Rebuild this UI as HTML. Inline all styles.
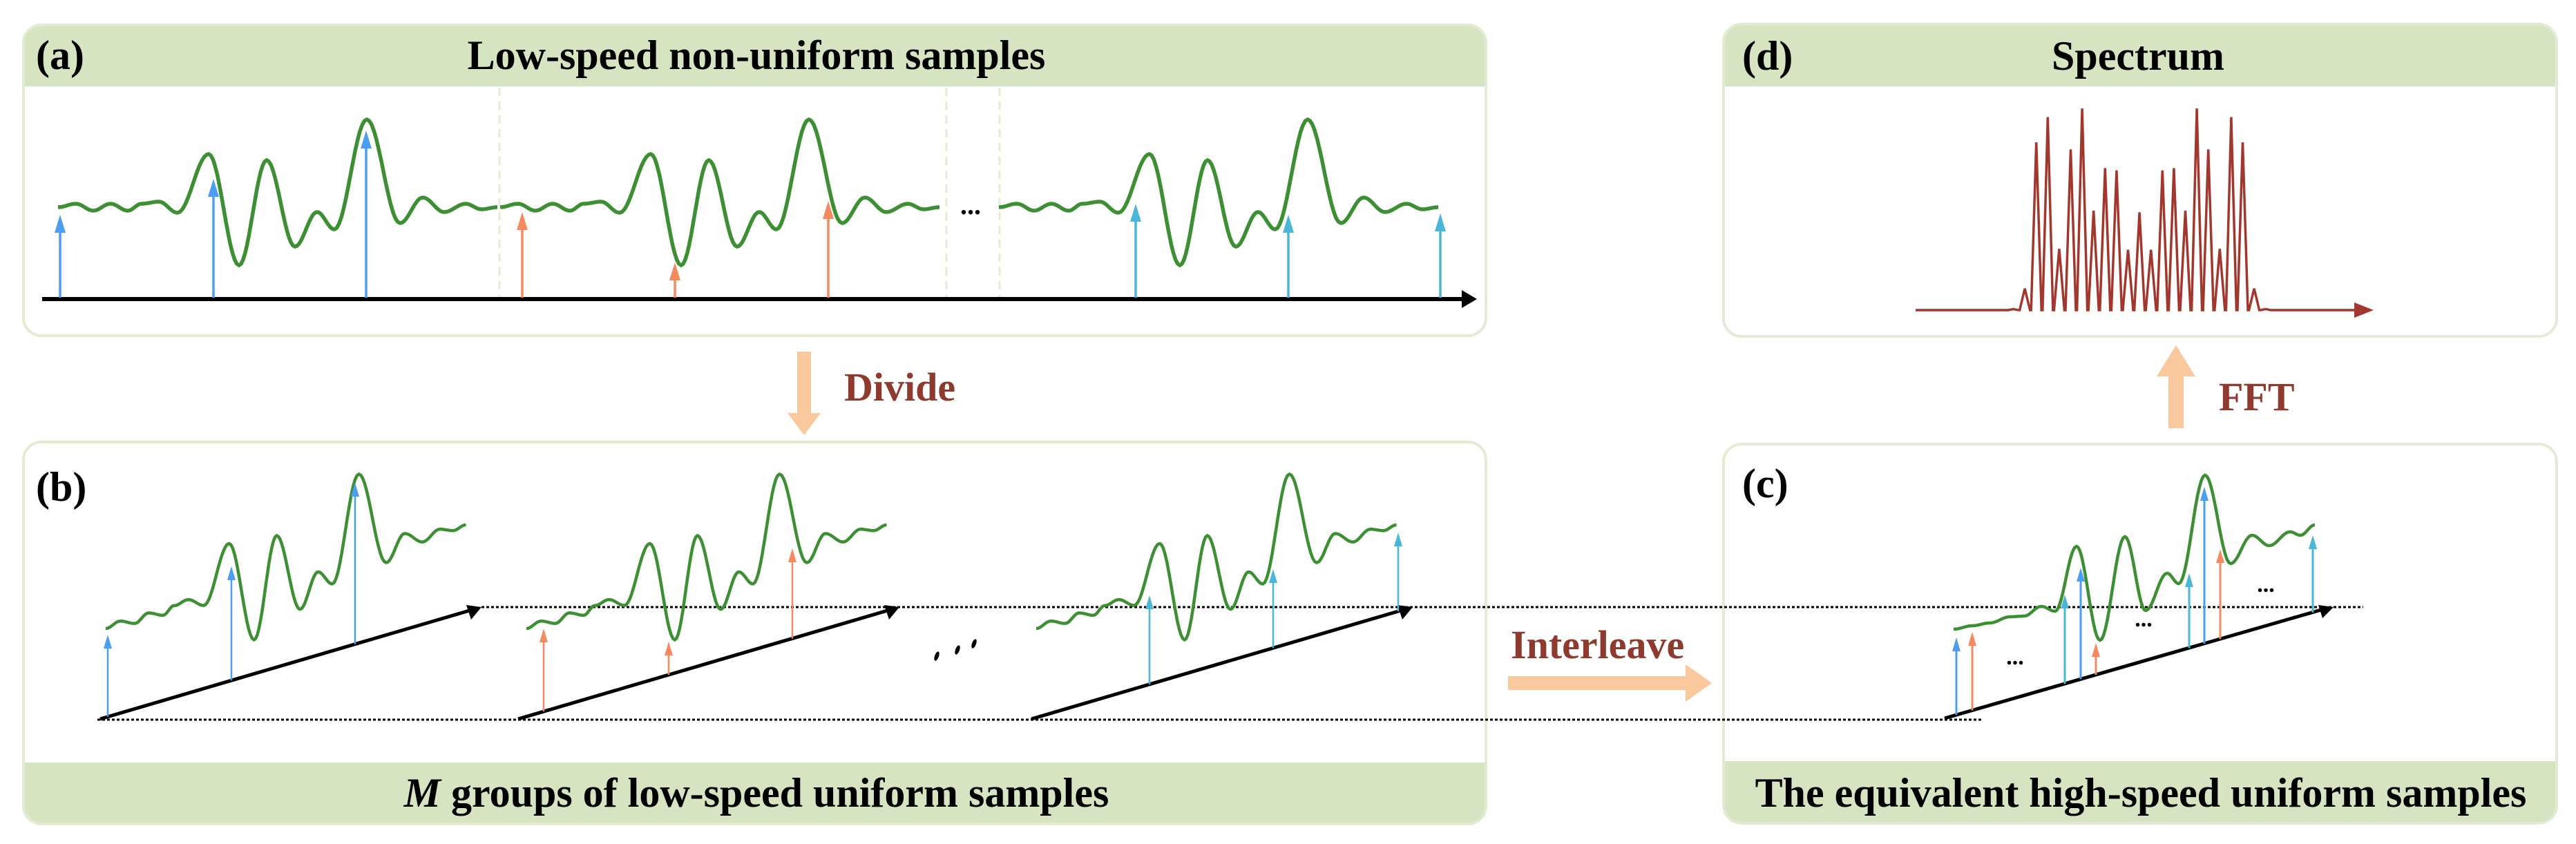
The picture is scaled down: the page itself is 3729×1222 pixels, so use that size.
<!DOCTYPE html>
<html><head><meta charset="utf-8">
<style>
html,body{margin:0;padding:0;background:#fff;}
svg{display:block;}
text{font-family:"Liberation Serif",serif;font-weight:bold;}
</style></head>
<body>
<svg id="fig" width="3729" height="1222" viewBox="0 0 3729 1222" xmlns="http://www.w3.org/2000/svg">
<defs>
<clipPath id="ca"><rect x="34" y="36" width="2117" height="450" rx="26"/></clipPath>
<clipPath id="cb"><rect x="34" y="640" width="2117" height="553" rx="26"/></clipPath>
<clipPath id="cd"><rect x="2495" y="35" width="1206" height="452" rx="26"/></clipPath>
<clipPath id="cc"><rect x="2495" y="643" width="1206" height="549" rx="26"/></clipPath>
</defs>
<g>
<rect x="34" y="36" width="2117" height="450" rx="26" fill="#fff"/>
<rect x="34" y="36" width="2117" height="89" fill="#d7e4c1" clip-path="url(#ca)"/>
<rect x="34" y="36" width="2117" height="450" rx="26" fill="none" stroke="#e2ecd2" stroke-width="4"/>
<text x="52" y="100" font-size="60">(a)</text>
<text x="1095" y="100" font-size="60" text-anchor="middle">Low-speed non-uniform samples</text>
</g>
<g>
<rect x="34" y="640" width="2117" height="553" rx="26" fill="#fff"/>
<rect x="34" y="1104" width="2117" height="89" fill="#d7e4c1" clip-path="url(#cb)"/>
<rect x="34" y="640" width="2117" height="553" rx="26" fill="none" stroke="#e2ecd2" stroke-width="4"/>
<text x="52" y="725" font-size="60">(b)</text>
<text x="1095" y="1168" font-size="60" text-anchor="middle"><tspan font-style="italic">M</tspan> groups of low-speed uniform samples</text>
</g>
<g>
<rect x="2495" y="35" width="1206" height="452" rx="26" fill="#fff"/>
<rect x="2495" y="35" width="1206" height="90" fill="#d7e4c1" clip-path="url(#cd)"/>
<rect x="2495" y="35" width="1206" height="452" rx="26" fill="none" stroke="#e2ecd2" stroke-width="4"/>
<text x="2522" y="101" font-size="60">(d)</text>
<text x="3095" y="101" font-size="60" text-anchor="middle">Spectrum</text>
</g>
<g>
<rect x="2495" y="643" width="1206" height="549" rx="26" fill="#fff"/>
<rect x="2495" y="1102" width="1206" height="90" fill="#d7e4c1" clip-path="url(#cc)"/>
<rect x="2495" y="643" width="1206" height="549" rx="26" fill="none" stroke="#e2ecd2" stroke-width="4"/>
<text x="2522" y="720" font-size="60">(c)</text>
<text x="3099" y="1168" font-size="60" text-anchor="middle">The equivalent high-speed uniform samples</text>
</g>
<g fill="#f9c89c">
<path d="M1154,509 L1174,509 L1174,598 L1188,598 L1164,630 L1140,598 L1154,598 Z"/>
<path d="M2183,979 L2440,979 L2440,962 L2478,989 L2440,1016 L2440,999 L2183,999 Z"/>
<path d="M3139,620 L3161,620 L3161,545 L3178,545 L3150,500 L3122,545 L3139,545 Z"/>
</g>
<g fill="#8e3a2e">
<text x="1222" y="580" font-size="58">Divide</text>
<text x="2187" y="953" font-size="58">Interleave</text>
<text x="3212" y="594" font-size="58">FFT</text>
</g>
<g id="dyn"></g>
</svg>
<script>
const waveX = [0,26,51,76,101,121,146,173,218,262,302,343,375,400,447,495,528,559,590,613,636];
const waveV = [0,5,-5,5,-5,5,8,-8,77,-84,68,-57,-7,-32,127,-23,14,-7,5,-3,0];
const segStartsA = [84,724,1446];
const sampleXA = [87,309,530,756,977,1199,1644,1865,2085];
const tipYA = [311,259,189,307,380,291,295,311,309];
const groupA = [0,0,0,1,1,1,2,2,2];
const groupStartsB = [153,762,1500];
const axisStartB = [145,750,1493];
const sampleXB = [156,335,514,787,968,1147,1664,1843,2024];
const tipYB = [919,820,699,910,929,794,862,824,771];
const waveCX = [2828,2855,2880,2910,2930,2955,2975,3006,3040,3076,3106,3137,3154,3192,3229,3260,3285,3315,3330,3351];
const waveCY = [911,906,902,893,892,878,885,791,927,777,884,830,845,688,816,775,790,770,775,760];
const sampleXC = [2832,2855,2989,3012,3034,3169,3191,3214,3348];
const tipYC = [923,915,861,822,931,830,705,795,775];
const groupC = [0,1,2,0,1,2,0,1,2];
const specAmp = [0.005,0.107,0.832,0.957,0.304,0.797,1.0,0.493,0.704,0.693,0.299,0.485,0.299,0.693,0.704,0.493,1.0,0.797,0.304,0.957,0.832,0.107,0.005];

const COLORS = ['#4b9ef2','#f5895f','#4ab6d8'];
const NS = 'http://www.w3.org/2000/svg';
const dyn = document.getElementById('dyn');
function mk(tag, attrs){ const e=document.createElementNS(NS,tag); for(const k in attrs) e.setAttribute(k,attrs[k]); dyn.appendChild(e); return e; }
function cosPath(pts){
  let d='M'+pts[0][0].toFixed(1)+','+pts[0][1].toFixed(1);
  for(let i=0;i<pts.length-1;i++){
    const [x0,y0]=pts[i],[x1,y1]=pts[i+1];
    for(let s=1;s<=14;s++){ const t=s/14; const f=(1-Math.cos(Math.PI*t))/2;
      d+=' L'+(x0+(x1-x0)*t).toFixed(1)+','+(y0+(y1-y0)*f).toFixed(1); }
  }
  return d;
}
function stem(x,y0,y1,color,w,hw,hh){
  const l=mk('line',{x1:x,y1:y0,x2:x,y2:y1+hh-2,stroke:color,'stroke-width':w});
  
  
  const p=mk('path',{d:`M${x},${y1} L${x+hw},${y1+hh} L${x-hw},${y1+hh} Z`,fill:color});
  
  
}
[723,1370,1447].forEach(x=>{
  const l=mk('line',{x1:x,y1:127,x2:x,y2:432,stroke:'#e4ebcf','stroke-width':3,'stroke-dasharray':'12 8'});
  
  
});
segStartsA.forEach(sx=>{
  const pts=waveX.map((x,i)=>[sx+x,300-waveV[i]]);
  const p=mk('path',{d:cosPath(pts),fill:'none',stroke:'#3d8f33','stroke-width':5.5});
  
  
});
{ const t=mk('text',{x:1405,y:310,'font-size':40,'text-anchor':'middle'}); t.textContent='...';
    }
{ const l=mk('line',{x1:61,y1:433,x2:2120,y2:433,stroke:'#000','stroke-width':6});
   
  const h=mk('path',{d:'M2138,433 L2116,420 L2116,446 Z',fill:'#000'});
    }
sampleXA.forEach((x,i)=>stem(x,431,tipYA[i],COLORS[groupA[i]],3.5,8,26));

{ const l1=mk('line',{x1:697,y1:879,x2:3421,y2:879,stroke:'#000','stroke-width':3,'stroke-dasharray':'4 3'});
   
  const l2=mk('line',{x1:141,y1:1042,x2:2869,y2:1042,stroke:'#000','stroke-width':3,'stroke-dasharray':'4 3'});
    }
const slopeB = 162/552;
function axisYB(g,x){ return 1041-(x-axisStartB[g])*slopeB; }
axisStartB.forEach((ax,g)=>{
  const ex=ax+552, ey=879;
  const l=mk('line',{x1:ax,y1:1041,x2:ex-14,y2:ey+4,stroke:'#000','stroke-width':5});
   
  const h=mk('path',{d:`M${ex},${ey} L${ex-22},${ey-3} L${ex-15},${ey+18} Z`,fill:'#000'});
   
});
groupStartsB.forEach(sx=>{
  const pts=waveX.map((x,i)=>[sx+x*0.82, 910-(x/636)*150-waveV[i]*0.93]);
  const p=mk('path',{d:cosPath(pts),fill:'none',stroke:'#3d8f33','stroke-width':4.5});
   
});
sampleXB.forEach((x,i)=>{ const g=Math.floor(i/3); stem(x,axisYB(g,x),tipYB[i],COLORS[g],2.5,6,20); });
[[1356,950],[1386,941],[1410,932]].forEach(([x,y])=>{
  const e=mk('ellipse',{cx:x,cy:y,rx:3,ry:7,fill:'#000',transform:`rotate(20 ${x} ${y})`});
   
});

{ const p=mk('path',{d:cosPath(waveCX.map((x,i)=>[x,waveCY[i]])),fill:'none',stroke:'#3d8f33','stroke-width':4.5});
    }
const slopeC=(1040-879)/(3375-2815);
function axisYC(x){ return 1040-(x-2815)*slopeC; }
{ const l=mk('line',{x1:2815,y1:1040,x2:3360,y2:883,stroke:'#000','stroke-width':5});
   
  const h=mk('path',{d:'M3378,879 L3356,876 L3362,895 Z',fill:'#000'});
    }
sampleXC.forEach((x,i)=>stem(x,axisYC(x),tipYC[i],COLORS[groupC[i]],3,6,20));
[[2917,962],[3103,907],[3280,857]].forEach(([x,y])=>{
  const t=mk('text',{x:x,y:y,'font-size':34,'text-anchor':'middle'}); t.textContent='...';
   
});

const specBase=449, specMax=292, specX0=2914.5, specDX=16.6;
function sx(i){ return specX0+i*specDX; }
function sy(a){ return specBase-a*specMax; }
{ let d=`M2773,${specBase} L${sx(0)-8},${specBase}`;
  specAmp.forEach((a,i)=>{ d+=` L${sx(i)-7.5},${specBase} L${sx(i)},${sy(a)} L${sx(i)+7.5},${specBase}`; });
  d+=` L3412,${specBase}`;
  const p=mk('path',{d:d,fill:'none',stroke:'#a2372d','stroke-width':3.5,'stroke-linejoin':'miter'});
   
  const h=mk('path',{d:`M3436,${specBase} L3408,${specBase-11} L3408,${specBase+11} Z`,fill:'#a2372d'});
    }
</script>
</body></html>
